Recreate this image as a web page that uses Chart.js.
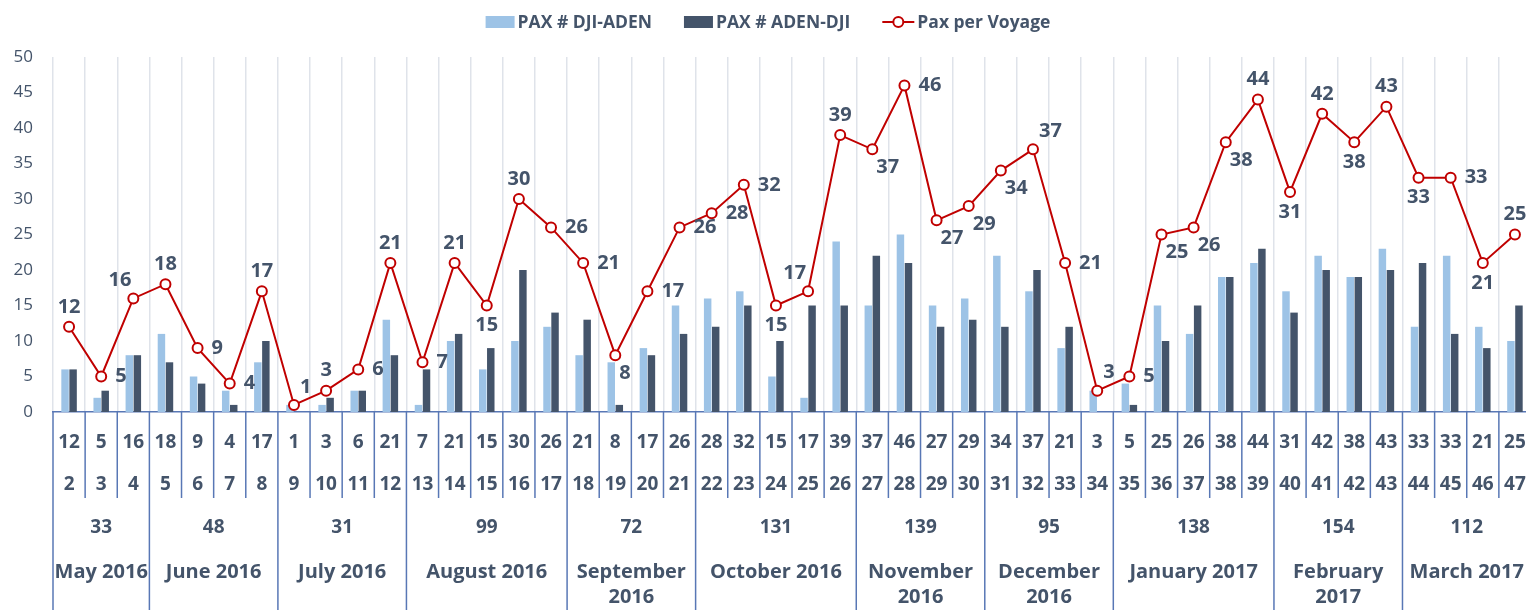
<!DOCTYPE html>
<html>
<head>
<meta charset="utf-8">
<script src="https://cdn.jsdelivr.net/npm/chart.js@4.4.1/dist/chart.umd.min.js"></script>
<style>
  html, body { margin: 0; padding: 0; background: #fff; overflow: hidden; }
  canvas { display: block; }
</style>
</head>
<body>
<canvas id="chartCanvas" width="1538" height="610"></canvas>
<script>
// voyage numbers (x categories)
const voyages = ['2','3','4','5','6','7','8','9','10','11','12','13','14','15','16','17','18','19','20','21','22','23','24',
  '25','26','27','28','29','30','31','32','33','34','35','36','37','38','39','40','41','42','43','44','45','46','47'];
const djiAden = [6,2,8,11,5,3,7,1,1,3,13,1,10,6,10,12,8,7,9,15,16,17,5,2,24,15,25,15,16,22,17,9,3,4,15,11,19,21,17,22,19,23,12,22,12,10];
const adenDji = [6,3,8,7,4,1,10,0,2,3,8,6,11,9,20,14,13,1,8,11,12,15,10,15,15,22,21,12,13,12,20,12,0,1,10,15,19,23,14,20,19,20,21,11,9,15];
const paxPerVoyage = [12,5,16,18,9,4,17,1,3,6,21,7,21,15,30,26,21,8,17,26,28,32,15,17,39,37,46,27,29,34,37,21,3,5,25,26,38,44,31,42,38,43,33,33,21,25];
const months = [['May 2016'],['June 2016'],['July 2016'],['August 2016'],['September','2016'],['October 2016'],
  ['November','2016'],['December','2016'],['January 2017'],['February','2017'],['March 2017']];
const voyagesPerMonth = [3,4,4,5,4,5,4,4,5,4,4];
const monthTotals = [33,48,31,99,72,131,139,95,138,154,112];
const yTicks = [0,5,10,15,20,25,30,35,40,45,50];
// where each line label sits relative to its point
const labelSide = ['a','r','al','a','r','r','a','ar','a','r','a','r','a','b','a','r','r','br','r','r','r','r','b','al',
  'a','br','r','br','br','br','ar','r','ar','r','br','br','br','a','b','a','b','a','b','r','b','a'];

const textColor = '#44546a';
const lightBlue = '#9dc3e6';
const darkBlue = '#44546a';
const red = '#c00000';
const tableLine = '#5877b5';

const lineLabels = {
  id: 'lineLabels',
  afterDatasetsDraw(chart) {
    const ctx = chart.ctx;
    const meta = chart.getDatasetMeta(2);
    ctx.save();
    ctx.font = 'bold 20px "Open Sans"';
    ctx.fillStyle = textColor;
    ctx.textAlign = 'center';
    ctx.textBaseline = 'middle';
    meta.data.forEach((pt, i) => {
      const txt = String(paxPerVoyage[i]);
      const w = ctx.measureText(txt).width;
      let x = pt.x, y = pt.y;
      switch (labelSide[i]) {
        case 'a': y -= 20; break;
        case 'b': y += 20; break;
        case 'r': x += 14 + w / 2; break;
        case 'ar': x += 6 + w / 2; y -= 18; break;
        case 'br': x += 4 + w / 2; y += 18; break;
        case 'al': x -= 2 + w / 2; y -= 18; break;
      }
      ctx.fillText(txt, x, y);
    });
    ctx.restore();
  }
};

const topLegend = {
  id: 'topLegend',
  afterDraw(chart) {
    const ctx = chart.ctx;
    const ds = chart.data.datasets;
    ctx.save();
    ctx.font = 'bold 17.5px "Open Sans"';
    const iconW = [29, 29, 32];
    const widths = ds.map((d, i) => iconW[i] + 3 + ctx.measureText(d.label).width);
    const total = widths.reduce((a, b) => a + b, 0) + 32 * (ds.length - 1);
    let x = 768 - total / 2;
    const y = 22;
    ds.forEach((d, i) => {
      if (d.type === 'line') {
        ctx.strokeStyle = d.borderColor;
        ctx.lineWidth = 2;
        ctx.beginPath(); ctx.moveTo(x, y); ctx.lineTo(x + iconW[i], y); ctx.stroke();
        ctx.beginPath(); ctx.arc(x + iconW[i] / 2, y, 5, 0, Math.PI * 2);
        ctx.fillStyle = '#fff'; ctx.fill(); ctx.stroke();
      } else {
        ctx.fillStyle = d.backgroundColor;
        ctx.fillRect(x, y - 6, iconW[i], 12);
      }
      ctx.fillStyle = textColor;
      ctx.textBaseline = 'middle';
      ctx.textAlign = 'left';
      ctx.fillText(d.label, x + iconW[i] + 3, y + 1);
      x += widths[i] + 32;
    });
    ctx.restore();
  }
};

const voyageTable = {
  id: 'voyageTable',
  afterDraw(chart) {
    const { ctx, chartArea, scales: { x } } = chart;
    const top = chartArea.bottom;
    const half = (x.getPixelForValue(1) - x.getPixelForValue(0)) / 2;
    const monthEdges = new Set([0]);
    let acc = 0;
    voyagesPerMonth.forEach(n => { acc += n; monthEdges.add(acc); });
    ctx.save();
    ctx.strokeStyle = tableLine;
    ctx.lineWidth = 1.5;
    for (let i = 0; i <= voyages.length; i++) {
      const xx = i < voyages.length ? x.getPixelForValue(i) - half : x.getPixelForValue(i - 1) + half;
      const bottom = monthEdges.has(i) ? chart.height : top + 86;
      ctx.beginPath(); ctx.moveTo(xx, top); ctx.lineTo(xx, bottom); ctx.stroke();
    }
    ctx.fillStyle = textColor;
    ctx.textAlign = 'center';
    ctx.textBaseline = 'middle';
    ctx.font = 'bold 19px "Open Sans"';
    voyages.forEach((v, i) => {
      const cx = x.getPixelForValue(i);
      ctx.fillText(String(paxPerVoyage[i]), cx, top + 31);
      ctx.fillText(v, cx, top + 73);
    });
    let start = 0;
    months.forEach((m, k) => {
      const end = start + voyagesPerMonth[k] - 1;
      const cx = (x.getPixelForValue(start) + x.getPixelForValue(end)) / 2;
      ctx.font = 'bold 19px "Open Sans"';
      ctx.fillText(String(monthTotals[k]), cx, top + 116);
      ctx.font = 'bold 20px "Open Sans"';
      m.forEach((line, j) => ctx.fillText(line, cx, top + 160 + j * 25));
      start = end + 1;
    });
    ctx.restore();
  }
};

const ctx = document.getElementById('chartCanvas').getContext('2d');
new Chart(ctx, {
  type: 'bar',
  data: {
    labels: voyages,
    datasets: [
      { label: 'PAX # DJI-ADEN', data: djiAden, backgroundColor: lightBlue, order: 1,
        categoryPercentage: 0.5, barPercentage: 0.93 },
      { label: 'PAX # ADEN-DJI', data: adenDji, backgroundColor: darkBlue, order: 2,
        categoryPercentage: 0.5, barPercentage: 0.93 },
      { type: 'line', label: 'Pax per Voyage', data: paxPerVoyage, borderColor: red, borderWidth: 2,
        pointRadius: 5, pointBackgroundColor: '#fff', pointBorderColor: red, pointBorderWidth: 2,
        tension: 0, order: 0 }
    ]
  },
  options: {
    responsive: false,
    animation: false,
    devicePixelRatio: 1,
    layout: { padding: { top: 57, bottom: 198, left: 0, right: 0 } },
    plugins: { legend: { display: false }, tooltip: { enabled: false } },
    scales: {
      x: {
        grid: { color: '#dfe3ea', lineWidth: 1.5, drawTicks: false, offset: true },
        border: { color: tableLine, width: 1.5 },
        ticks: { display: false }
      },
      y: {
        min: 0, max: 50,
        afterFit: scale => { scale.width = 53; },
        afterBuildTicks: scale => { scale.ticks = yTicks.map(v => ({ value: v })); },
        grid: { display: false, drawTicks: false },
        border: { display: false },
        ticks: { color: textColor, padding: 20, font: { family: 'Open Sans', size: 17 } }
      }
    }
  },
  plugins: [lineLabels, topLegend, voyageTable]
});
</script>
</body>
</html>
